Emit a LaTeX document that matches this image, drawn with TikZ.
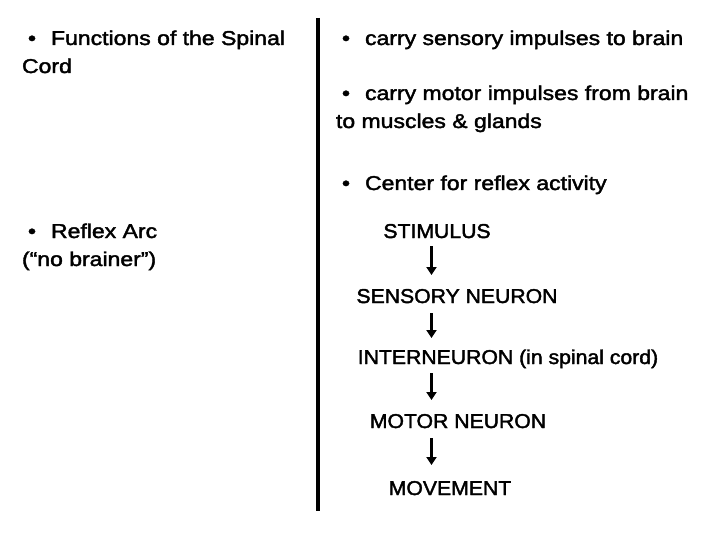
\documentclass[tikz,border=0pt]{standalone}
\usepackage{fontspec}
\setmainfont{Liberation Sans}[FakeStretch=1.15, FakeBold=2]
\newfontfamily\flowfont{Liberation Sans}[FakeStretch=1.06, FakeBold=2]
\usepackage{tikz}
\usetikzlibrary{arrows.meta, positioning}

\begin{document}
\begin{tikzpicture}[
    x=1pt, y=-1pt,
    every node/.style={font=\fontsize{20}{28}\selectfont, inner sep=0pt, outer sep=0pt},
    bullet/.style={anchor=base west, align=left},
    flow/.style={anchor=base, font=\flowfont\fontsize{20}{28}\selectfont},
    arrow/.style={-{Triangle[width=10pt, length=8pt]}, line width=3pt}
]
\useasboundingbox (0,0) rectangle (720,540);

% Left column (anchored at the baseline of the last line)
\node[bullet] (func)   at (22,73)  {\hspace{6pt}\textbullet\hspace{15pt}Functions of the Spinal\\Cord};
\node[bullet] (reflex) at (22,266) {\hspace{6pt}\textbullet\hspace{15pt}Reflex Arc\\(“no brainer”)};

% Divider
\coordinate (top) at (318,18);
\coordinate (bot) at (318,511);
\draw[line width=4pt] (top) -- (bot);

% Right column
\node[bullet] (sens)   at (336,45)  {\hspace{6pt}\textbullet\hspace{15pt}carry sensory impulses to brain};
\node[bullet] (motor)  at (336,128) {\hspace{6pt}\textbullet\hspace{15pt}carry motor impulses from brain\\to muscles \& glands};
\node[bullet] (center) at (336,190) {\hspace{6pt}\textbullet\hspace{15pt}Center for reflex activity};

% Reflex arc chain
\node[flow] (stim)  at (437,238) {STIMULUS};
\node[flow] (sn)    at (457,303) {SENSORY NEURON};
\node[flow] (inter) at (508,364) {INTERNEURON (in spinal cord)};
\node[flow] (mn)    at (458,428) {MOTOR NEURON};
\node[flow] (move)  at (450,495) {MOVEMENT};

\coordinate (ax) at (431.5,0);
\draw[arrow] ([yshift=-8pt]stim.base -| ax) -- ([yshift=28pt]sn.base -| ax);
\draw[arrow] ([yshift=-10pt]sn.base -| ax) -- ([yshift=26pt]inter.base -| ax);
\draw[arrow] ([yshift=-9pt]inter.base -| ax) -- ([yshift=28pt]mn.base -| ax);
\draw[arrow] ([yshift=-10pt]mn.base -| ax) -- ([yshift=30pt]move.base -| ax);

\end{tikzpicture}
\end{document}
